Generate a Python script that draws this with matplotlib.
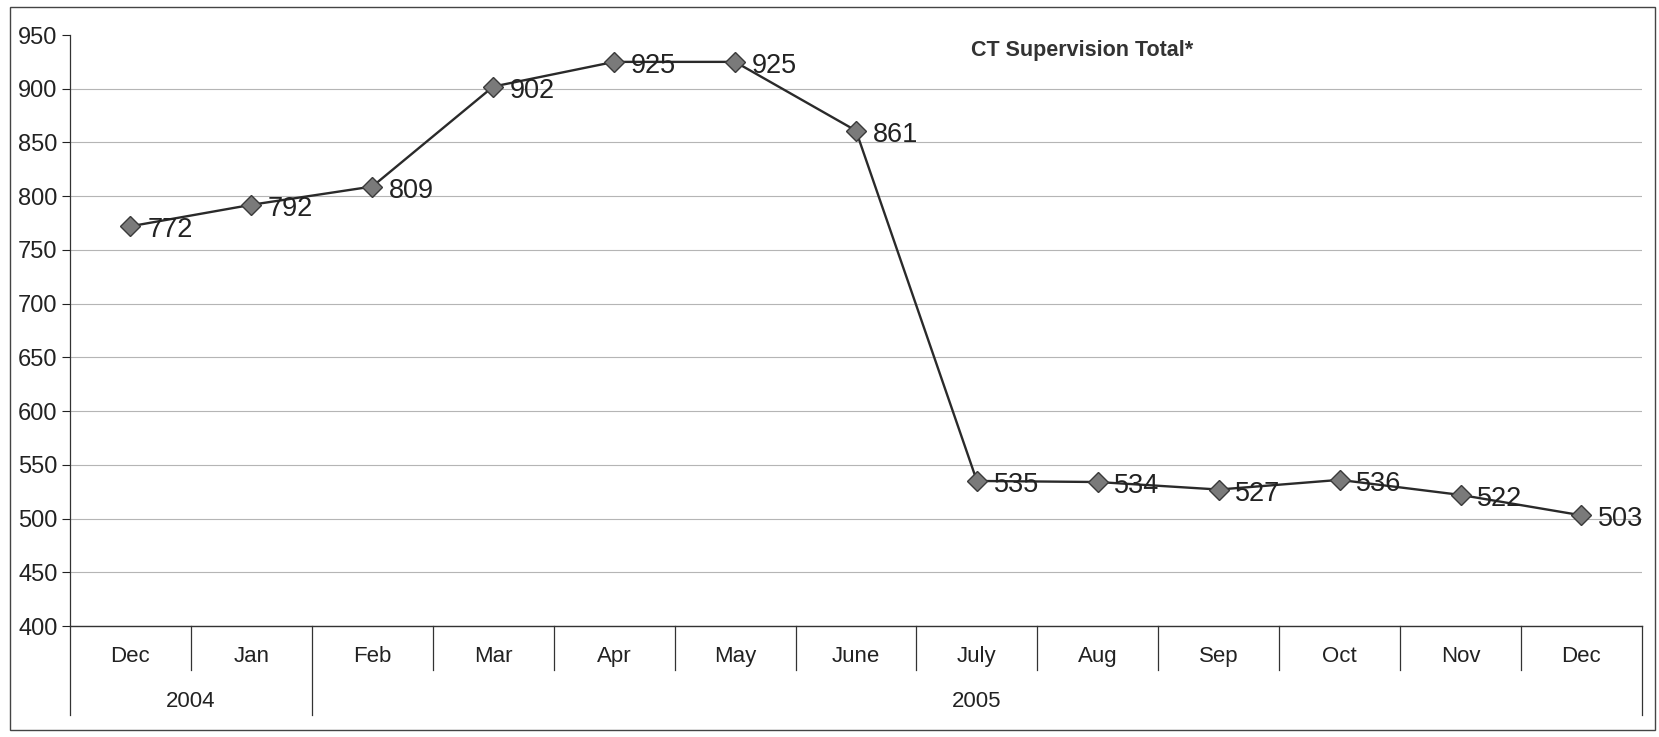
import matplotlib
matplotlib.use('Agg')
import matplotlib.pyplot as plt
from matplotlib.patches import Rectangle

# Data
months = ['Dec', 'Jan', 'Feb', 'Mar', 'Apr', 'May', 'June', 'July', 'Aug', 'Sep', 'Oct', 'Nov', 'Dec']
totals = [772, 792, 809, 902, 925, 925, 861, 535, 534, 527, 536, 522, 503]
years = ['2004', '2005']
year_spans = [(0, 1), (2, 12)]  # first and last month index of each year
y_ticks = [400, 450, 500, 550, 600, 650, 700, 750, 800, 850, 900, 950]

plt.rcParams['font.family'] = ['Liberation Sans', 'DejaVu Sans']

fig = plt.figure(figsize=(16.59, 7.37), dpi=100)
ax = fig.add_axes([0.0422, 0.1506, 0.9475, 0.8019])

x = list(range(len(months)))
ax.plot(x, totals, color='#2a2a2a', lw=1.7, marker='D', ms=10,
        markerfacecolor='#7a7a7a', markeredgecolor='#3a3a3a', markeredgewidth=1.0, zorder=3)

for xi, v in zip(x, totals):
    ax.annotate(str(v), (xi, v), xytext=(12, -3), textcoords='offset points',
                ha='left', va='center', fontsize=19.5, color='#222222', zorder=4)

ax.set_xlim(-0.5, len(months) - 0.5)
ax.set_ylim(y_ticks[0], y_ticks[-1])
ax.set_yticks(y_ticks)
ax.tick_params(axis='y', labelsize=17, length=6, width=0.8, colors='#222222', pad=3)
ax.set_xticks([])

ax.yaxis.grid(True, color='#b5b5b5', lw=0.8)
ax.set_axisbelow(True)
# top gridline is not shown in the original
ax.get_ygridlines()[-1].set_visible(False)

for side in ['top', 'right']:
    ax.spines[side].set_visible(False)
ax.spines['left'].set_color('#333333')
ax.spines['bottom'].set_color('#333333')
ax.spines['left'].set_linewidth(0.9)
ax.spines['bottom'].set_linewidth(1.0)

# multi-level category axis
trans = ax.get_xaxis_transform()
month_row = -0.0745
year_row = -0.1506
for i in range(len(months)):
    ax.text(i, -0.052, months[i], transform=trans, ha='center', va='center',
            fontsize=16, color='#222222')
year_bounds = [-0.5] + [s[1] + 0.5 for s in year_spans]
for i in range(1, len(months)):
    b = i - 0.5
    bottom = year_row if b in year_bounds else month_row
    ax.plot([b, b], [0, bottom], transform=trans, color='#333333', lw=0.9, clip_on=False)
for b in [year_bounds[0], year_bounds[-1]]:
    ax.plot([b, b], [0, year_row], transform=trans, color='#333333', lw=0.9, clip_on=False)
for label, (s, e) in zip(years, year_spans):
    ax.text((s + e) / 2, -0.128, label, transform=trans, ha='center', va='center',
            fontsize=16, color='#222222')

fig.text(0.652, 0.932, 'CT Supervision Total*', ha='center', va='center',
         fontsize=15.5, fontweight='bold', color='#333333')

# outer chart border
fig.patches.append(Rectangle((0.006, 0.0095), 0.9915, 0.981, transform=fig.transFigure,
                             fill=False, edgecolor='#444444', lw=1.0))

fig.savefig('out.png', dpi=100)
